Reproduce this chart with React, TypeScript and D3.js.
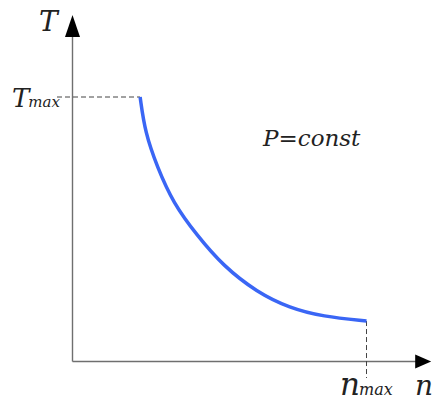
import React from 'react';
import * as d3 from 'd3';

// speed n (% of n_max) and torque T (% of T_max)
const speed = [23, 24.7, 28.8, 34.2, 42.4, 51.2, 62.7, 73.9, 85.1, 100];
const torque = [100, 86.5, 73.6, 60, 47.6, 36.2, 26.2, 20.2, 17, 15.3];
const nAxisEnd = 122;
const tAxisEnd = 131;

const W = 434;
const H = 405;

export default function App() {
  const x = d3.scaleLinear().domain([0, 100]).range([72.5, 366.5]);
  const y = d3.scaleLinear().domain([0, 100]).range([361.5, 97]);

  const pts: [number, number][] = speed.map((n, i) => [n, torque[i]]);
  const line = d3.line<[number, number]>()
    .x(d => x(d[0]))
    .y(d => y(d[1]))
    .curve(d3.curveBasis);

  const nMax = speed[speed.length - 1];
  const tMax = torque[0];
  const tAtNMax = torque[torque.length - 1];

  const xTip = x(nAxisEnd);
  const yTip = y(tAxisEnd);
  const font = "'DejaVu Serif', 'Liberation Serif', serif";
  const axisColor = '#6f6f6f';

  return (
    <svg width={W} height={H} style={{position: 'absolute', left: 0, top: 0, background: '#fff'}}>
      {/* axes */}
      <line x1={x(0)} y1={y(0)} x2={xTip - 12} y2={y(0)} stroke={axisColor} strokeWidth={1.4}/>
      <line x1={x(0)} y1={y(0)} x2={x(0)} y2={yTip + 18} stroke={axisColor} strokeWidth={1.4}/>
      <path d={`M${x(0)},${yTip} L${x(0) - 7.5},${yTip + 22} L${x(0) + 7.5},${yTip + 22} Z`} fill="#000"/>
      <path d={`M${xTip},${y(0)} L${xTip - 16},${y(0) - 7} L${xTip - 16},${y(0) + 7} Z`} fill="#000"/>

      {/* guide lines */}
      <line x1={57} y1={y(tMax)} x2={x(speed[0])} y2={y(tMax)} stroke="#444" strokeWidth={1} strokeDasharray="5,3"/>
      <line x1={x(nMax)} y1={y(tAtNMax)} x2={x(nMax)} y2={378} stroke="#444" strokeWidth={1} strokeDasharray="5,3"/>

      {/* curve */}
      <path d={line(pts) ?? ''} fill="none" stroke="#3a66f5" strokeWidth={3.5}/>

      {/* labels */}
      <g style={{fontFamily: font, fontStyle: 'italic'}} fill="#222">
        <text x={39} y={31} fontSize={28}>T</text>
        <text x={12} y={107} fontSize={26}>T<tspan fontSize={15} dx={-1}>max</tspan></text>
        <text x={340} y={395} fontSize={31}>n<tspan fontSize={16} dx={-1}>max</tspan></text>
        <text x={415} y={395} fontSize={28}>n</text>
        <text x={263} y={146} fontSize={23}>P=const</text>
      </g>
    </svg>
  );
}
